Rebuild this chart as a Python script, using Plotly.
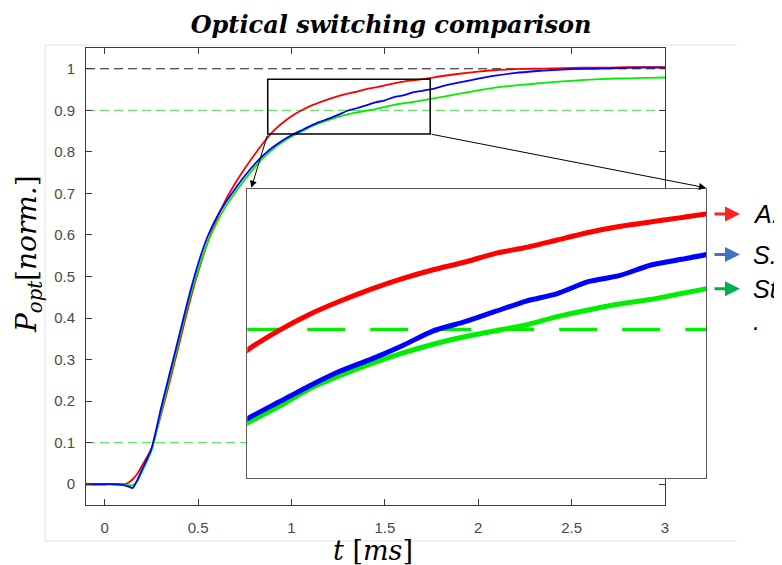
import numpy as np
import plotly.graph_objects as go

# ---------------- data ----------------
t_ms = [-0.1, 0.0, 0.05, 0.1, 0.125, 0.15, 0.175, 0.2, 0.25, 0.3, 0.35, 0.4, 0.45, 0.5,
        0.55, 0.6, 0.65, 0.7, 0.75, 0.8, 0.85, 0.9, 0.95, 1.0, 1.05, 1.1, 1.15, 1.2,
        1.25, 1.3, 1.35, 1.4, 1.45, 1.5, 1.55, 1.6, 1.65, 1.7, 1.75, 1.8, 1.9, 2.0,
        2.1, 2.2, 2.3, 2.4, 2.5, 2.6, 2.7, 2.8, 2.9, 3.0]

p_red = [0.0, 0.0, 0.0, 0.0, 0.003, 0.012, 0.025, 0.045, 0.085, 0.165, 0.25, 0.34, 0.43, 0.51,
         0.58, 0.638, 0.686, 0.725, 0.76, 0.792, 0.822, 0.849, 0.869, 0.886, 0.899, 0.910, 0.919, 0.927,
         0.934, 0.940, 0.945, 0.951, 0.955, 0.960, 0.965, 0.969, 0.972, 0.975, 0.978, 0.982, 0.988, 0.993,
         0.997, 0.999, 1.000, 1.001, 1.002, 1.003, 1.003, 1.004, 1.004, 1.004]

p_blue = [0.0, 0.0, 0.0, -0.002, -0.005, -0.009, 0.01, 0.035, 0.085, 0.18, 0.27, 0.36, 0.45, 0.53,
          0.595, 0.643, 0.680, 0.712, 0.742, 0.769, 0.792, 0.811, 0.827, 0.840, 0.851, 0.862, 0.872, 0.880,
          0.889, 0.899, 0.905, 0.912, 0.919, 0.924, 0.932, 0.936, 0.943, 0.947, 0.951, 0.957, 0.967, 0.976,
          0.984, 0.990, 0.994, 0.997, 0.999, 1.000, 1.001, 1.002, 1.003, 1.003]

p_green = [0.0, 0.0, 0.0, -0.001, -0.002, -0.003, 0.008, 0.03, 0.08, 0.17, 0.26, 0.35, 0.44, 0.515,
           0.58, 0.63, 0.670, 0.703, 0.733, 0.761, 0.786, 0.806, 0.823, 0.837, 0.848, 0.860, 0.869, 0.877,
           0.884, 0.890, 0.895, 0.899, 0.903, 0.9085, 0.913, 0.917, 0.920, 0.924, 0.928, 0.932, 0.940, 0.948,
           0.955, 0.960, 0.964, 0.968, 0.971, 0.974, 0.976, 0.977, 0.978, 0.979]

level_ref = 1.0
level_hi = 0.9
level_lo = 0.1

x_ticks = [0, 0.5, 1, 1.5, 2, 2.5, 3]
x_ticklabels = ["0", "0.5", "1", "1.5", "2", "2.5", "3"]
y_ticks = [0, 0.1, 0.2, 0.3, 0.4, 0.5, 0.6, 0.7, 0.8, 0.9, 1.0]
y_ticklabels = ["0", "0.1", "0.2", "0.3", "0.4", "0.5", "0.6", "0.7", "0.8", "0.9", "1"]

x_range = [-0.1, 3.0]
y_range = [-0.05, 1.05]
zoom_box_x = [0.873, 1.743]
zoom_box_y = [0.843, 0.975]
inset_x_range = [1.0, 1.74]
inset_y_range = [0.800, 0.994]

side_labels = ["A.", "S.", "St", "."]

# ---------------- layout geometry ----------------
OFF = 8                      # page body margin of the browser
W, H = 782 - OFF, 565 - OFF
PLOT_L, PLOT_R, PLOT_T, PLOT_B = 86, 706, 48, 505   # plot area in window pixels
ML, MT = PLOT_L - OFF, PLOT_T - OFF
MR, MB = W - (PLOT_R - OFF), H - (PLOT_B - OFF)
PW, PH = PLOT_R - PLOT_L, PLOT_B - PLOT_T

def px(X):
    return (X - PLOT_L) / PW

def py(Y):
    return (PLOT_B - Y) / PH

main_xdom = [0.0, px(665)]
inset_xdom = [px(247.3), 1.0]
inset_ydom = [py(478.3), py(189.3)]

RED, BLUE, GREEN = "#ff0000", "#0000ff", "#00ee00"

fig = go.Figure()

# main axes: reference levels
for lvl, col in [(level_ref, "#1a1a1a"), (level_hi, "#44dd44"), (level_lo, "#44dd44")]:
    fig.add_trace(go.Scatter(x=x_range, y=[lvl, lvl], mode="lines",
                             line=dict(color=col, width=1, dash="9px,5px"),
                             xaxis="x", yaxis="y", showlegend=False, hoverinfo="skip"))
# main curves
for ys, col in [(p_red, RED), (p_green, GREEN), (p_blue, BLUE)]:
    fig.add_trace(go.Scatter(x=t_ms, y=ys, mode="lines",
                             line=dict(color=col, width=1.8, shape="spline", smoothing=0.6),
                             xaxis="x", yaxis="y", showlegend=False))

# inset
fig.add_trace(go.Scatter(x=[inset_x_range[0] - 0.005, inset_x_range[1]], y=[level_hi, level_hi],
                         mode="lines", line=dict(color="#00ee00", width=3.3, dash="38px,25px"),
                         xaxis="x2", yaxis="y2", showlegend=False, hoverinfo="skip"))
for ys, col in [(p_red, RED), (p_green, GREEN), (p_blue, BLUE)]:
    fig.add_trace(go.Scatter(x=t_ms, y=ys, mode="lines",
                             line=dict(color=col, width=5, shape="spline", smoothing=0.6),
                             xaxis="x2", yaxis="y2", showlegend=False))

tickfont = dict(family="Liberation Sans, Arial", size=15, color="#4a4a4a")
axis_common = dict(showline=True, mirror="ticks", linecolor="#3a3a3a", linewidth=1,
                   ticks="inside", ticklen=6, tickcolor="#3a3a3a", tickwidth=1,
                   showgrid=False, zeroline=False, tickfont=tickfont)

fig.update_layout(
    width=W, height=H, autosize=False,
    margin=dict(l=ML, r=MR, t=MT, b=MB),
    paper_bgcolor="white", plot_bgcolor="white",
    xaxis=dict(domain=main_xdom, range=x_range, tickvals=x_ticks, ticktext=x_ticklabels,
               ticklabelstandoff=9, **axis_common),
    yaxis=dict(domain=[0, 1], range=y_range, tickvals=y_ticks, ticktext=y_ticklabels,
               ticklabelstandoff=7, **axis_common),
    xaxis2=dict(domain=inset_xdom, range=inset_x_range, anchor="y2", showline=True, mirror=True,
                linecolor="#5a5a5a", linewidth=1, ticks="", showticklabels=False,
                showgrid=False, zeroline=False),
    yaxis2=dict(domain=inset_ydom, range=inset_y_range, anchor="x2", showline=True, mirror=True,
                linecolor="#5a5a5a", linewidth=1, ticks="", showticklabels=False,
                showgrid=False, zeroline=False),
    title=dict(text="<b><i>Optical switching comparison</i></b>", xref="container",
               x=(391 - OFF) / W, y=1 - (25 - OFF) / H, yanchor="middle", xanchor="center",
               font=dict(family="DejaVu Serif", size=24, color="black")),
    showlegend=False,
)

# zoom box in main axes
fig.add_shape(type="rect", xref="x", yref="y", x0=zoom_box_x[0], x1=zoom_box_x[1],
              y0=zoom_box_y[0], y1=zoom_box_y[1], line=dict(color="black", width=1.5), layer="above")

# arrows from box corners to inset corners (tip positions derived from inset domain)
def paper_to_x(p):
    return x_range[0] + (p - main_xdom[0]) / (main_xdom[1] - main_xdom[0]) * (x_range[1] - x_range[0])

def paper_to_y(p):
    return y_range[0] + p * (y_range[1] - y_range[0])

tip_y = paper_to_y(inset_ydom[1] + 1.5 / PH)
for tail_x, tip_p in [(zoom_box_x[0], inset_xdom[0] + 4 / PW), (zoom_box_x[1], inset_xdom[1])]:
    fig.add_annotation(x=paper_to_x(tip_p), y=tip_y, xref="x", yref="y",
                       ax=tail_x, ay=zoom_box_y[0], axref="x", ayref="y",
                       showarrow=True, arrowhead=2, arrowsize=1.4, arrowwidth=1,
                       arrowcolor="black", standoff=0, text="")

# side labels with coloured arrows at the curves' end values in the inset
end_vals = [float(np.interp(inset_x_range[1], t_ms, s)) for s in (p_red, p_blue, p_green)] + [level_hi]
arrow_cols = ["#ff2222", "#4472c4", "#00b050", None]
for lab, val, col in zip(side_labels, end_vals, arrow_cols):
    if col:
        fig.add_annotation(x=px(740), y=val, xref="paper", yref="y2", ax=-27, ay=0,
                           axref="pixel", ayref="pixel", showarrow=True, arrowhead=2,
                           arrowsize=1.0, arrowwidth=3, arrowcolor=col, standoff=0, text="")
    fig.add_annotation(x=px(751), y=val, xref="paper", yref="y2", text=f"<i>{lab}</i>",
                       showarrow=False, xanchor="left", yanchor="middle",
                       yshift=8 if lab == "." else 0,
                       font=dict(family="Liberation Sans, Arial", size=25, color="black"))

# axis titles
fig.add_annotation(x=px(373), y=py(550), xref="paper", yref="paper",
                   text="<i>t</i> [<i>ms</i>]", showarrow=False, xanchor="center", yanchor="middle",
                   font=dict(family="DejaVu Serif", size=27, color="black"))
fig.add_annotation(x=px(29), y=py(254), xref="paper", yref="paper",
                   text="<i>P</i><sub><i>opt</i></sub>[<i>norm.</i>]", textangle=-90,
                   showarrow=False, xanchor="center", yanchor="middle",
                   font=dict(family="DejaVu Serif", size=28, color="black"))

# faint frame of the pasted picture
bx0, bx1 = px(45), px(737)
by0, by1 = py(541), py(45)
fig.add_shape(type="path", xref="paper", yref="paper",
              path=f"M {bx1} {by1} L {bx0} {by1} L {bx0} {by0} L {bx1} {by0}",
              line=dict(color="#e4e4e4", width=1), layer="below")

fig.write_html("out.html")
